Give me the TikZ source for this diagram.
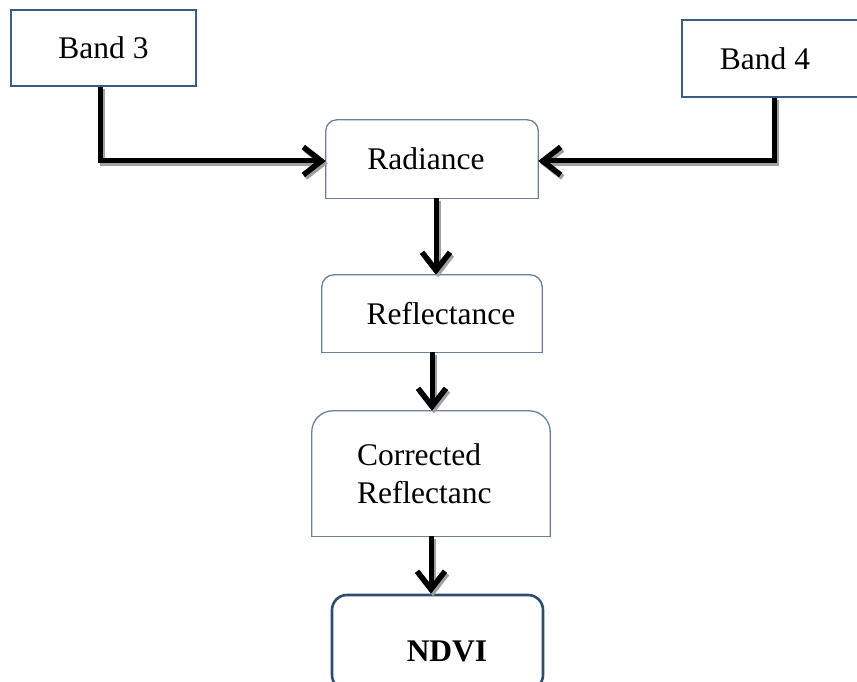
\documentclass[tikz,border=0pt]{standalone}
\usepackage{fontspec}
\setmainfont{Liberation Serif}
\usetikzlibrary{arrows.meta}
\definecolor{bandline}{HTML}{3B5A84}
\definecolor{procline}{HTML}{6A80A0}
\definecolor{ndviline}{HTML}{2E4B72}
\definecolor{shadowgray}{HTML}{A0A0A0}
\newcommand\toproundbox[2]{%
  \draw[procline, line width=1.3pt, line cap=rect, rounded corners=#2]
    (#1.south west) -- (#1.north west) -- (#1.north east) -- (#1.south east);
  \draw[procline, line width=1.3pt, line cap=rect] (#1.south west) -- (#1.south east);}
\begin{document}
\begin{tikzpicture}[x=1pt,y=-1pt,
  txt/.style={font=\fontsize{31.5}{38}\selectfont},
  bandbox/.style={draw=bandline, line width=2pt, rectangle, txt, inner sep=0pt},
  procbox/.style={draw=none, rectangle, txt, inner sep=0pt},
  ndvibox/.style={draw=ndviline, line width=2.6pt, rounded corners=15pt, rectangle, inner sep=0pt},
  flowtip/.style={-{Straight Barb[length=18pt,width=28pt,line width=5.5pt]}},
  flow/.style={line width=5pt, flowtip},
  flowshadow/.style={line width=5pt, flowtip, draw=shadowgray, transform canvas={shift={(2pt,-2.5pt)}}},
]
\useasboundingbox (0,0) rectangle (857,682);
\fill[white] (0,0) rectangle (857,682);

\node[bandbox, minimum width=185pt, minimum height=76pt] (b3) at (103.5,48) {Band 3};
\node[bandbox, minimum width=188pt, minimum height=77pt] (b4) at (776,58.5) {\hspace*{-22pt}Band 4};

\node[procbox, minimum width=212pt, minimum height=78pt] (rad) at (432,159) {\hspace*{-12pt}Radiance};
\node[procbox, minimum width=220pt, minimum height=77pt] (refl) at (432,313.5) {\hspace*{18pt}Reflectance};
\node[procbox, minimum height=125pt, inner xsep=45pt, text width=148pt, align=left] (corr) at (431,473.5) {Corrected\\Reflectanc};
\toproundbox{rad}{11pt}
\toproundbox{refl}{12pt}
\toproundbox{corr}{21pt}

\node[ndvibox, minimum width=211pt, minimum height=95pt,
  label={[txt, xshift=9.5pt, yshift=-9pt]center:\textbf{NDVI}}] (ndvi) at (437.5,642.5) {};

\foreach \st in {flowshadow, flow} {
  \draw[\st] ([xshift=-3.5pt]b3.south) |- ([yshift=-2pt]rad.west);
  \draw[\st] ([xshift=-2pt]b4.south) |- ([yshift=-2pt]rad.east);
  \draw[\st] ([xshift=4pt]rad.south) -- ([xshift=4pt]rad.south |- refl.north);
  \draw[\st] (refl.south) -- (refl.south |- corr.north);
  \draw[\st] (corr.south) -- (corr.south |- ndvi.north);
}
\end{tikzpicture}
\end{document}
